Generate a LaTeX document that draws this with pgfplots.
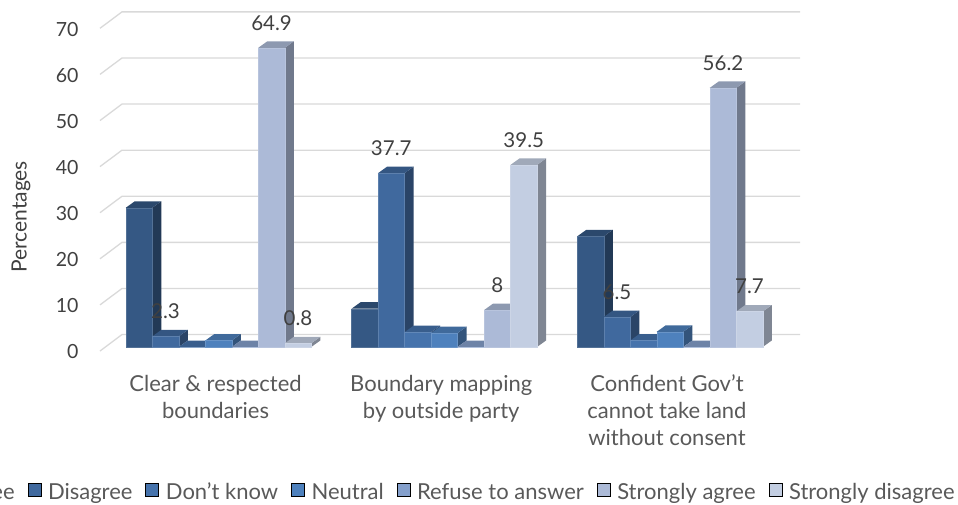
\documentclass[border=0pt]{standalone}
\usepackage{fontspec}
\setmainfont{Lato}
\usepackage{pgfplots}
\usepackage{pgfplotstable}
\pgfplotsset{compat=1.18}

\definecolor{c1}{RGB}{53,88,132}
\definecolor{c2}{RGB}{64,105,158}
\definecolor{c3}{RGB}{70,115,172}
\definecolor{c4}{RGB}{78,129,189}
\definecolor{c5}{RGB}{133,160,204}
\definecolor{c6}{RGB}{172,186,215}
\definecolor{c7}{RGB}{195,206,226}
\definecolor{gridc}{RGB}{217,217,217}
\definecolor{labc}{RGB}{64,64,64}
\definecolor{legc}{RGB}{89,89,89}

% percentages per category (row) and answer (column)
\pgfplotstableread{
cat Agree Disagree DontKnow Neutral Refuse StronglyAgree StronglyDisagree
0 30.2 2.3 0 1.4 0 64.9 0.8
1 8.3 37.7 3.2 3.0 0 8 39.5
2 24 6.5 1.4 3.3 0 56.2 7.7
}\datatable

% the values that carry a label
\pgfplotstableread{
g s v
0 1 2.3
0 5 64.9
0 6 0.8
1 1 37.7
1 5 8
1 6 39.5
2 1 6.5
2 5 56.2
2 6 7.7
}\labeltable

\newcommand\barw{0.1174}
\newcommand\depthx{0.04}
\newcommand\depthy{1.41}

% front, top and side of one column
\newcommand\columnthreed[3]{%
  \pgfmathsetmacro\xa{#1+(#2-1-3.5)*\barw}%
  \pgfmathsetmacro\xb{\xa+\barw}%
  \pgfmathsetmacro\xc{\xa+\depthx}%
  \pgfmathsetmacro\xd{\xb+\depthx}%
  \pgfmathsetmacro\yt{#3+\depthy}%
  \edef\doit{%
    \noexpand\addplot[forget plot,draw=none,fill=c#2!65!black] coordinates {(\xb,0) (\xd,\depthy) (\xd,\yt) (\xb,#3)} -- cycle;
    \noexpand\addplot[forget plot,draw=none,fill=c#2!82!black] coordinates {(\xa,#3) (\xc,\yt) (\xd,\yt) (\xb,#3)} -- cycle;
    \noexpand\addplot[forget plot,draw=c#2!85!white,line width=0.4pt,fill=c#2] coordinates {(\xa,0) (\xa,#3) (\xb,#3) (\xb,0)} -- cycle;
  }\doit
}

\begin{document}
\begin{tikzpicture}[x=1pt,y=1pt]
\path[use as bounding box,clip] (0,0) rectangle (958,504);
\begin{axis}[
    at={(100pt,153pt)},anchor=south west,
    scale only axis,width=700pt,height=351pt,
    clip=false,
    xmin=-0.525,xmax=2.576,ymin=-0.868,ymax=75.27,
    axis line style={draw=none},
    tick style={draw=none},
    xtick={0,1,2},
    xticklabels={{Clear \& respected\\boundaries},{Boundary mapping\\by outside party},{Confident Gov't\\cannot take land\\without consent}},
    x tick label style={align=center,font=\fontsize{22}{27}\selectfont,text=legc,anchor=north,xshift=-3pt,yshift=-20.5pt},
    ytick={0,10,...,70},
    y tick label style={font=\fontsize{19.5}{22}\selectfont,text=labc,anchor=east,xshift=-18pt,yshift=-5pt},
    /pgf/number format/assume math mode=true,
    ylabel={Percentages},
    ylabel style={font=\fontsize{21}{24}\selectfont,text=labc,at={(axis description cs:-0.113,0.382)},anchor=center},
    legend columns=-1,
    legend style={draw=none,fill=none,at={(0.4955,-0.406)},anchor=center,font=\fontsize{22}{24}\selectfont,text=legc,
      nodes={text height=16pt,text depth=5pt},
      /tikz/every even column/.append style={column sep=11pt}},
    legend image code/.code={\fill[#1] (0pt,-3pt) rectangle (13pt,10pt);\path (18pt,0pt);},
  ]
  % back wall and side wall grid lines
  \pgfplotsforeachungrouped \v in {0,10,...,70}{%
    \pgfmathsetmacro\ya{\v-0.868}%
    \pgfmathsetmacro\yb{\v+2.7}%
    \edef\doit{\noexpand\addplot[forget plot,draw=gridc,line width=1.3pt] coordinates {(-0.525,\ya) (-0.4275,\yb) (2.576,\yb)};}\doit
  }
  % columns, left to right
  \pgfplotsforeachungrouped \g in {0,1,2}{%
    \pgfplotsforeachungrouped \s in {1,...,7}{%
      \pgfplotstablegetelem{\g}{[index]\s}\of\datatable
      \edef\val{\pgfplotsretval}%
      \columnthreed{\g}{\s}{\val}%
    }%
  }
  % value labels
  \addplot[forget plot,draw=none,mark=none,
    nodes near coords,
    nodes near coords style={anchor=center,yshift=25pt,text=labc,font=\fontsize{20.5}{22}\selectfont},
  ] table[x expr=\thisrow{g}+(\thisrow{s}-3)*\barw,y=v] {\labeltable};
  \addlegendimage{fill=c1}\addlegendentry{Agree}
  \addlegendimage{fill=c2}\addlegendentry{Disagree}
  \addlegendimage{fill=c3}\addlegendentry{Don't know}
  \addlegendimage{fill=c4}\addlegendentry{Neutral}
  \addlegendimage{fill=c5}\addlegendentry{Refuse to answer}
  \addlegendimage{fill=c6}\addlegendentry{Strongly agree}
  \addlegendimage{fill=c7}\addlegendentry{Strongly disagree}
\end{axis}
\end{tikzpicture}
\end{document}
